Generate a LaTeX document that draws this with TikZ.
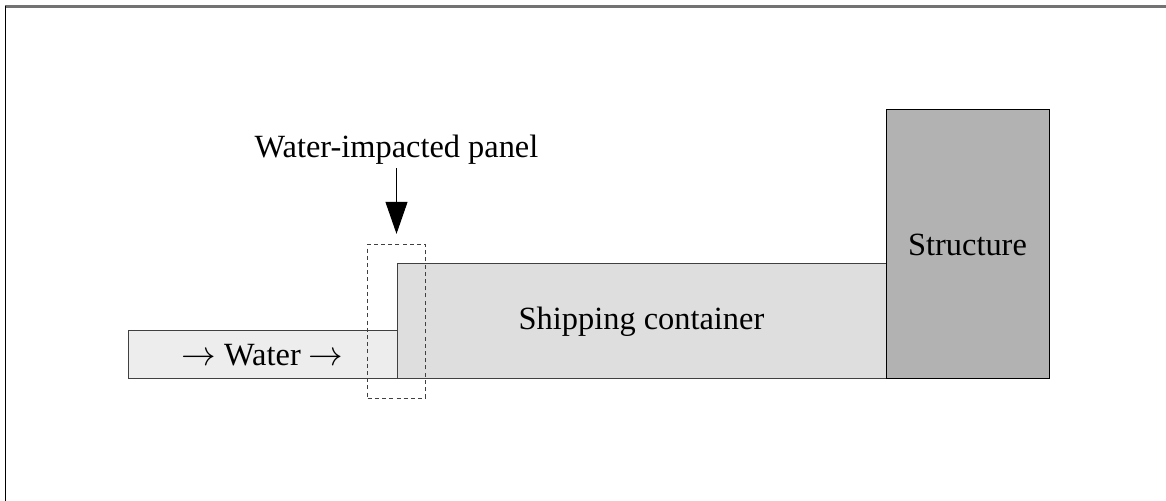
\documentclass[tikz,border=0pt]{standalone}
\usepackage{fontspec}
\setmainfont{Liberation Serif}
\usetikzlibrary{arrows.meta}

\tikzset{
  lbl/.style={font=\fontsize{16.2pt}{19pt}\selectfont, inner sep=0pt},
  part/.style={draw=black!75, line width=0.5pt},
}

\begin{document}
\begin{tikzpicture}[x=0.5pt,y=-0.5pt]
\useasboundingbox (0,0) rectangle (1166,501);
% frame
\draw[black!55, line width=1.1pt] (5,6.5) -- (1166,6.5);
\draw[black, line width=0.8pt] (5.5,6) -- (5.5,501);
% blocks
\draw[part, fill=black!7] (128,331) rectangle (397,379);
\draw[part, fill=black!13] (397,264) rectangle (886,379);
\draw[draw=black, line width=0.5pt, fill=black!30] (886,110) rectangle (1049,379);
\node[lbl] (water) at (262.5,355) {$\rightarrow$ Water $\rightarrow$};
\node[lbl] (container) at (641.5,321.5) {Shipping container};
\node[lbl] (structure) at (967.5,244.5) {Structure};
% panel
\node[draw=black!75, dashed, dash pattern=on 2pt off 1.6pt, line width=0.45pt,
      minimum width=28.8pt, minimum height=77pt, inner sep=0pt] (panel) at (396.5,321.3) {};
\node[lbl, anchor=base] (panellabel) at (396.5,158) {Water-impacted panel};
\draw[-{Triangle[width=11pt,length=16pt]}, line width=0.5pt, shorten <=1.5pt, shorten >=5pt]
  (panellabel.south) -- (panel.north);
\end{tikzpicture}
\end{document}
